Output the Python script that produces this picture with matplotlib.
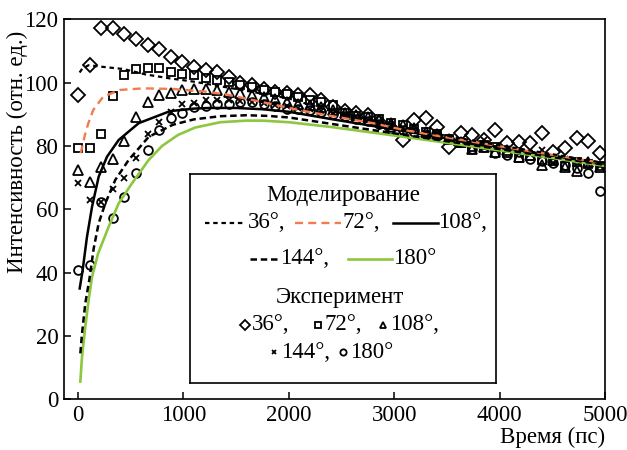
import matplotlib
matplotlib.use('Agg')
import matplotlib.pyplot as plt

plt.rcParams['font.family'] = ['Liberation Serif', 'DejaVu Serif']

# experiment: time grid (ps) and intensities for each angle
t_exp = [0, 110, 220, 330, 440, 550, 660, 770, 880, 990, 1100, 1210, 1320, 1430, 1540,
         1650, 1760, 1870, 1980, 2090, 2200, 2310, 2420, 2530, 2640, 2750, 2860, 2970,
         3080, 3190, 3300, 3410, 3520, 3630, 3740, 3850, 3960, 4070, 4180, 4290, 4400,
         4510, 4620, 4730, 4840, 4950]
exp_36 = [96.1, 105.5, 117.3, 117.3, 115.5, 113.9, 112.0, 110.7, 108.1, 106.5, 104.9, 103.9,
          103.4, 101.9, 99.8, 99.3, 97.9, 97.1, 96.6, 96.1, 96.1, 94.5, 92.4, 91.0, 90.3,
          89.8, 87.5, 85.6, 81.9, 88.2, 88.7, 86.1, 79.8, 84.0, 83.5, 82.0, 85.1, 80.8,
          81.3, 80.8, 84.0, 78.2, 79.3, 82.6, 81.6, 77.9]
exp_72 = [79.3, 79.3, 83.8, 95.9, 102.4, 104.3, 104.7, 104.5, 103.5, 102.7, 102.4, 101.5,
          100.8, 100.2, 99.3, 98.6, 97.8, 97.0, 96.3, 95.6, 94.6, 93.8, 92.8, 90.3, 89.6,
          89.0, 88.4, 87.3, 86.6, 85.3, 84.5, 83.8, 82.1, 81.0, 79.7, 80.2, 79.6, 77.7,
          76.1, 76.8, 75.5, 75.8, 73.6, 75.0, 74.2, 73.6]
exp_108 = [72.4, 68.7, 73.5, 75.8, 81.7, 89.2, 94.0, 96.1, 96.6, 97.7, 97.9, 97.9, 97.7,
           97.1, 96.6, 96.1, 95.6, 94.7, 94.0, 93.4, 92.8, 92.2, 91.5, 90.5, 89.7, 89.0,
           88.2, 87.2, 86.6, 85.6, 84.5, 83.8, 82.1, 81.2, 79.0, 79.6, 78.0, 78.6, 76.4,
           77.1, 74.0, 75.6, 73.5, 72.2, 75.0, 73.5]
exp_144 = [68.4, 62.9, 62.4, 66.3, 69.8, 76.1, 83.8, 87.7, 90.8, 93.2, 93.5, 94.4, 94.6,
           94.4, 94.2, 93.9, 93.5, 93.0, 92.5, 92.0, 91.6, 91.0, 90.4, 89.7, 89.0, 88.1,
           87.3, 86.5, 85.7, 85.0, 84.2, 83.3, 82.6, 81.7, 80.6, 81.9, 79.8, 79.1, 78.4,
           77.6, 78.7, 74.5, 76.0, 75.2, 74.4, 73.7]
exp_180 = [40.8, 42.4, 62.4, 57.2, 63.8, 71.4, 78.7, 85.0, 88.7, 90.3, 92.2, 92.6, 93.2,
           93.2, 93.9, 93.9, 93.2, 92.5, 91.8, 91.8, 91.3, 90.7, 90.2, 89.4, 88.6, 87.8,
           87.0, 86.1, 85.2, 84.5, 83.6, 83.0, 82.2, 81.3, 79.2, 79.6, 77.8, 77.1, 78.0,
           76.0, 75.2, 74.6, 74.0, 73.2, 71.6, 65.9]

# simulated curves
sim_36_t = [15, 40, 100, 230, 430, 640, 860, 1100, 1500, 2000, 2400, 3000, 3500, 4000, 4500, 5000]
sim_36_y = [103.2, 104.4, 105.5, 105.0, 104.3, 102.6, 101.4, 100.3, 98.0, 95.0, 91.0, 86.5,
            83.2, 80.2, 77.4, 74.6]
sim_72_t = [25, 66, 98, 145, 240, 400, 620, 900, 1200, 1400, 1800, 2100, 2400, 2800, 3100,
            3500, 4000, 4500, 5000]
sim_72_y = [77.7, 83.5, 87.2, 91.4, 95.6, 97.7, 98.2, 98.0, 97.2, 96.3, 93.5, 91.3, 89.5,
            87.2, 85.0, 82.7, 79.9, 77.2, 74.5]
sim_108_t = [16, 44, 85, 133, 196, 275, 386, 576, 873, 1100, 1250, 1500, 1750, 2000, 2400,
             3000, 3500, 4000, 4500, 5000]
sim_108_y = [35.0, 40.8, 51.3, 60.8, 70.3, 76.6, 81.9, 87.2, 91.0, 91.8, 92.0, 92.0, 91.6,
             90.8, 88.5, 85.2, 82.4, 79.6, 77.0, 74.3]
sim_144_t = [22, 38, 69, 107, 149, 196, 259, 354, 481, 671, 900, 1100, 1350, 1600, 1800,
             2000, 2400, 2740, 3000, 3500, 4000, 4500, 5000]
sim_144_y = [14.5, 20.8, 30.3, 37.7, 47.7, 55.6, 61.9, 69.3, 75.6, 82.9, 86.7, 88.4, 89.4,
             89.7, 89.5, 89.0, 87.0, 85.3, 84.0, 81.5, 79.0, 76.5, 74.0]
sim_180_t = [22, 38, 69, 101, 133, 190, 291, 386, 512, 671, 797, 950, 1110, 1350, 1600,
             1750, 2000, 2400, 3000, 3500, 4000, 4500, 5000]
sim_180_y = [5.6, 13.5, 22.9, 31.4, 38.7, 46.0, 54.5, 61.9, 68.2, 75.6, 80.0, 83.5, 85.8,
             87.5, 88.0, 88.0, 87.5, 86.0, 83.3, 81.0, 78.6, 76.2, 73.7]

orange = '#f47a50'
green = '#8dc63f'
fs = 16.5

fig = plt.figure(figsize=(6.27, 4.5), dpi=100)
ax = fig.add_axes([64 / 627, 1 - 399.3 / 450, 541 / 627, 380 / 450])

mk = dict(linestyle='none', markerfacecolor='none', markeredgecolor='black', markeredgewidth=1.3)
ax.plot(t_exp, exp_36, marker='D', markersize=7.0, **mk)
ax.plot(t_exp, exp_72, marker='s', markersize=6.3, **mk)
ax.plot(t_exp, exp_108, marker='^', markersize=7.0, **mk)
ax.plot(t_exp, exp_144, marker='x', markersize=4.0, **mk)
ax.plot(t_exp, exp_180, marker='o', markersize=6.3, **mk)

ax.plot(sim_180_t, sim_180_y, color=green, lw=1.9)
ax.plot(sim_144_t, sim_144_y, color='black', lw=1.8, dashes=(2.6, 1.5))
ax.plot(sim_108_t, sim_108_y, color='black', lw=1.8)
ax.plot(sim_72_t, sim_72_y, color=orange, lw=1.7, dashes=(3.4, 2.2))
ax.plot(sim_36_t, sim_36_y, color='black', lw=1.6, dashes=(2.0, 1.7))

ax.set_xlim(-133, 5000)
ax.set_ylim(0, 120)
ax.set_xticks([0, 1000, 2000, 3000, 4000, 5000])
ax.set_yticks([0, 20, 40, 60, 80, 100, 120])
ax.tick_params(direction='in', length=5, width=1.1, labelsize=fs, pad=4)
for s in ax.spines.values():
    s.set_linewidth(1.2)
fig.text(17 / 627, 1 - 152 / 450, 'Интенсивность (отн. ед.)', fontsize=fs,
         rotation=90, ha='center', va='center')
fig.text(605 / 627, 1 - 437 / 450, 'Время (пс)', fontsize=fs, ha='right', va='center')

# legend panel drawn in pixel coordinates
lax = fig.add_axes([190 / 627, 1 - 383 / 450, 306 / 627, 209 / 450])
lax.set_xlim(190, 496)
lax.set_ylim(383, 174)
lax.set_xticks([])
lax.set_yticks([])
for s in lax.spines.values():
    s.set_linewidth(1.2)

lax.text(343, 196, 'Моделирование', fontsize=fs, ha='center', va='center')
lax.plot([205, 246], [223, 223], color='black', lw=1.6, dashes=(2.0, 1.7))
lax.text(248, 223, '36°,', fontsize=fs, va='center')
lax.plot([295, 341], [223, 223], color=orange, lw=1.7, dashes=(3.4, 2.2))
lax.text(342, 223, '72°,', fontsize=fs, va='center')
lax.plot([393, 438], [223, 223], color='black', lw=1.8)
lax.text(438, 223, '108°,', fontsize=fs, va='center')
lax.plot([250, 279], [259, 259], color='black', lw=1.8, dashes=(2.6, 1.5))
lax.text(280, 259, '144°,', fontsize=fs, va='center')
lax.plot([348, 392], [259, 259], color=green, lw=1.9)
lax.text(393, 259, '180°', fontsize=fs, va='center')

lax.text(340, 298, 'Эксперимент', fontsize=fs, ha='center', va='center')
lk = dict(linestyle='none', markerfacecolor='none', markeredgecolor='black', markeredgewidth=1.3)
lax.plot([245], [325], marker='D', markersize=4.8, **lk)
lax.text(252, 325, '36°,', fontsize=fs, va='center')
lax.plot([318], [325], marker='s', markersize=4.5, **lk)
lax.text(325, 325, '72°,', fontsize=fs, va='center')
lax.plot([383], [325], marker='^', markersize=5, **lk)
lax.text(390, 325, '108°,', fontsize=fs, va='center')
lax.plot([274], [352], marker='x', markersize=3.5, **lk)
lax.text(281, 352, '144°,', fontsize=fs, va='center')
lax.plot([343], [352], marker='o', markersize=4.5, **lk)
lax.text(350, 352, '180°', fontsize=fs, va='center')

fig.savefig('out.png', dpi=100)
